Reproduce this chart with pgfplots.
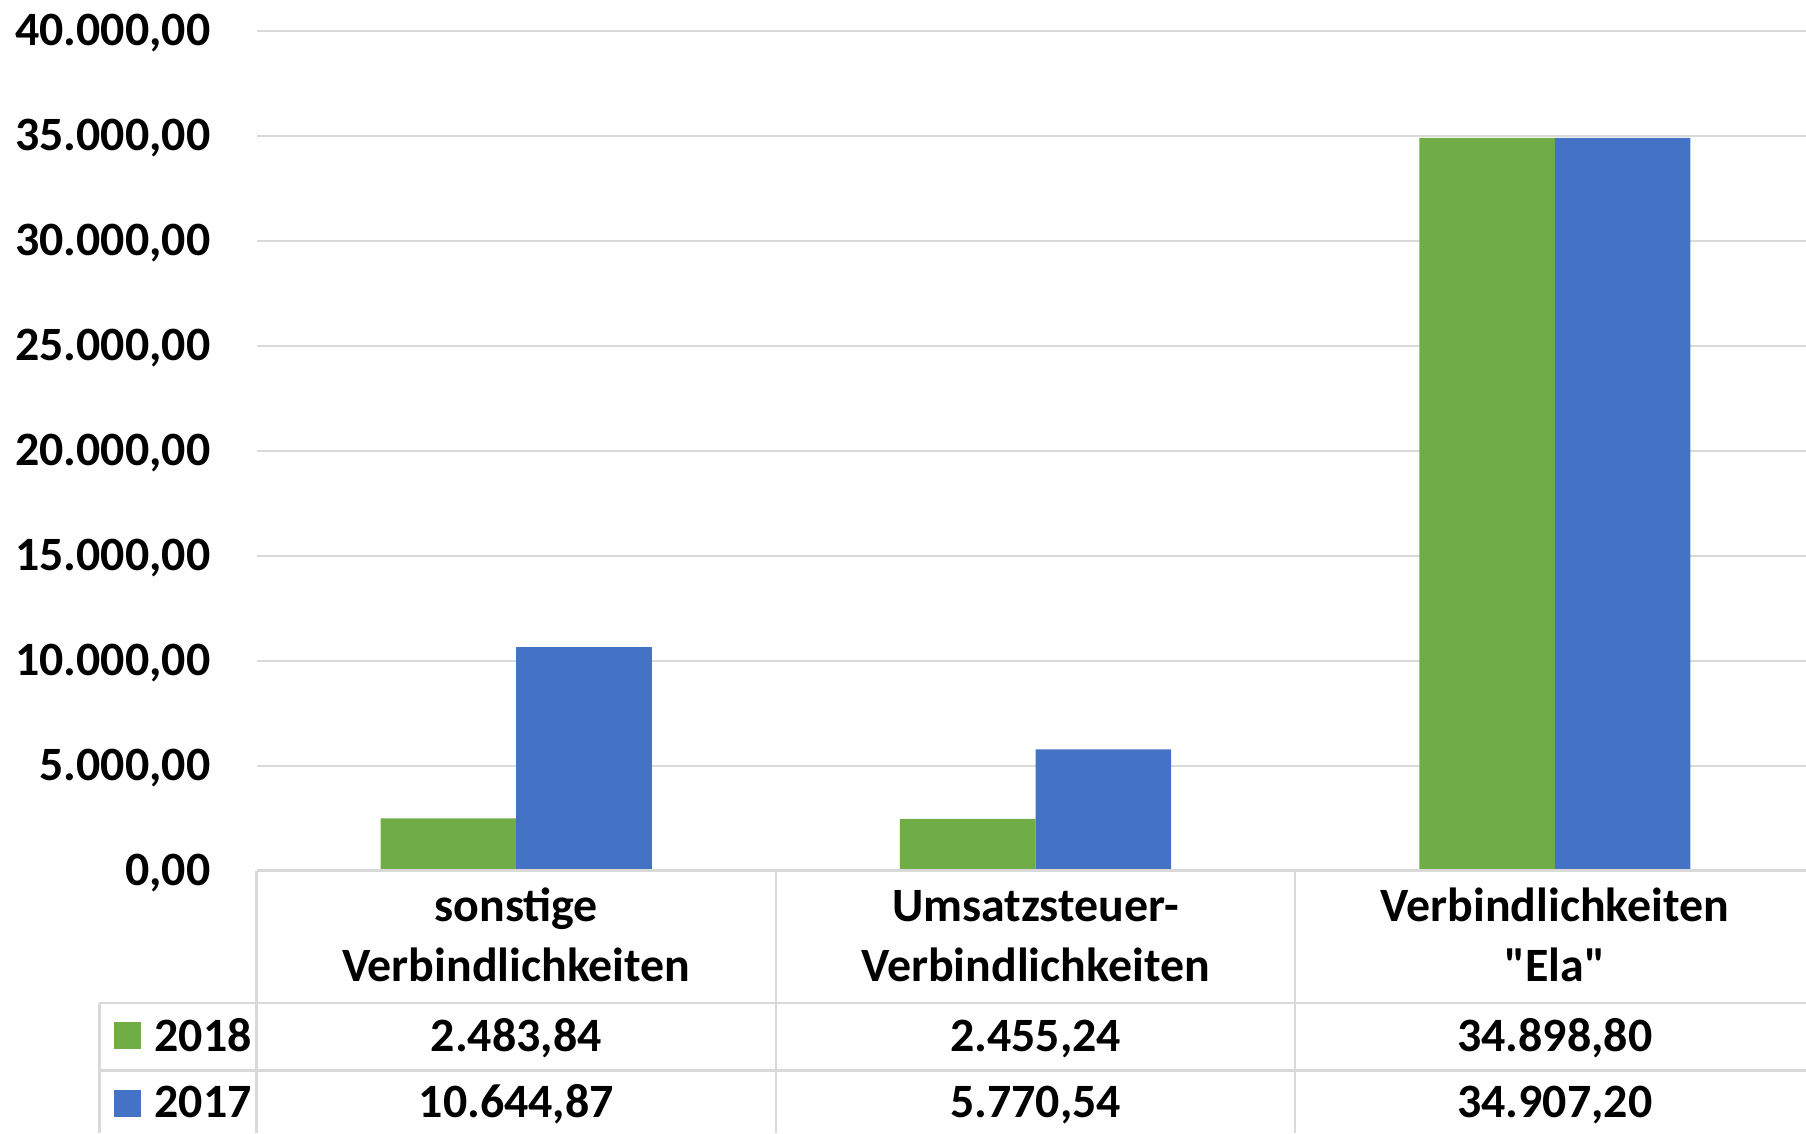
\documentclass[border=0pt]{standalone}
\usepackage{fontspec}
\setmainfont{Carlito}[Ligatures=TeXOff]
\usepackage{pgfplots}
\pgfplotsset{compat=1.18}
\definecolor{g18}{HTML}{70AD47}
\definecolor{b17}{HTML}{4472C4}
\definecolor{gridc}{HTML}{D9D9D9}
\newcommand\tf{\bfseries\fontsize{24}{29.7}\selectfont}
\begin{document}
\pgfkeys{/pgf/number format/.cd, fixed, fixed zerofill, precision=2, use comma, 1000 sep={.}, assume math mode=true}
\begin{tikzpicture}
\useasboundingbox (0,0) rectangle (903pt,568pt);
\begin{axis}[
  at={(126.35pt,131.65pt)}, anchor=south west,
  scale only axis, width=776.65pt, height=420.85pt,
  xmin=-0.5, xmax=2.4837, ymin=0, ymax=40000,
  ybar=0pt, bar width=0.261,
  xtick={0,1,2},
  xticklabels={{sonstige\\Verbindlichkeiten},{Umsatzsteuer-\\Verbindlichkeiten},{Verbindlichkeiten\\"Ela"}},
  ytick={0,5000,10000,15000,20000,25000,30000,35000,40000},
  scaled y ticks=false,
  ymajorgrids, grid style={gridc, line width=1pt},
  axis line style={draw=none},
  major tick length=0pt,
  tick style={draw=none},
  ticklabel style={font=\tf},
  yticklabel style={inner sep=0pt, anchor=base east, xshift=-23pt, yshift=-7.5pt},
  xticklabel style={inner sep=0pt, anchor=base, align=center, yshift=-55.5pt},
  clip=false,
]
\addplot[fill=g18, draw=none] coordinates {(0,2483.84) (1,2455.24) (2,34898.80)};
\addplot[fill=b17, draw=none] coordinates {(0,10644.87) (1,5770.54) (2,34907.20)};
\node[anchor=base, inner sep=0pt, font=\tf, yshift=-90.8pt] at (axis cs:0,0) {\pgfmathprintnumber{2483.84}};
\node[anchor=base, inner sep=0pt, font=\tf, yshift=-90.8pt] at (axis cs:1,0) {\pgfmathprintnumber{2455.24}};
\node[anchor=base, inner sep=0pt, font=\tf, yshift=-90.8pt] at (axis cs:2,0) {\pgfmathprintnumber{34898.80}};
\node[anchor=base, inner sep=0pt, font=\tf, yshift=-123.8pt] at (axis cs:0,0) {\pgfmathprintnumber{10644.87}};
\node[anchor=base, inner sep=0pt, font=\tf, yshift=-123.8pt] at (axis cs:1,0) {\pgfmathprintnumber{5770.54}};
\node[anchor=base, inner sep=0pt, font=\tf, yshift=-123.8pt] at (axis cs:2,0) {\pgfmathprintnumber{34907.20}};
\end{axis}
\begin{scope}[gridc, line width=1.25pt]
\draw (126.35pt,131.65pt) -- (903pt,131.65pt);
\draw (47.5pt,65.15pt) -- (903pt,65.15pt);
\draw (47.5pt,31.35pt) -- (903pt,31.35pt);
\draw (47.5pt,0pt) -- (47.5pt,65.15pt);
\draw (126.35pt,0pt) -- (126.35pt,131.65pt);
\draw (386.65pt,0pt) -- (386.65pt,131.65pt);
\draw (646.95pt,0pt) -- (646.95pt,131.65pt);
\end{scope}
\fill[g18] (55pt,42pt) rectangle (68.5pt,55.5pt);
\node[anchor=base west, inner sep=0pt, font=\tf] at (75pt,40.85pt) {2018};
\fill[b17] (55pt,8pt) rectangle (68.5pt,21.4pt);
\node[anchor=base west, inner sep=0pt, font=\tf] at (75pt,7.85pt) {2017};
\end{tikzpicture}
\end{document}
